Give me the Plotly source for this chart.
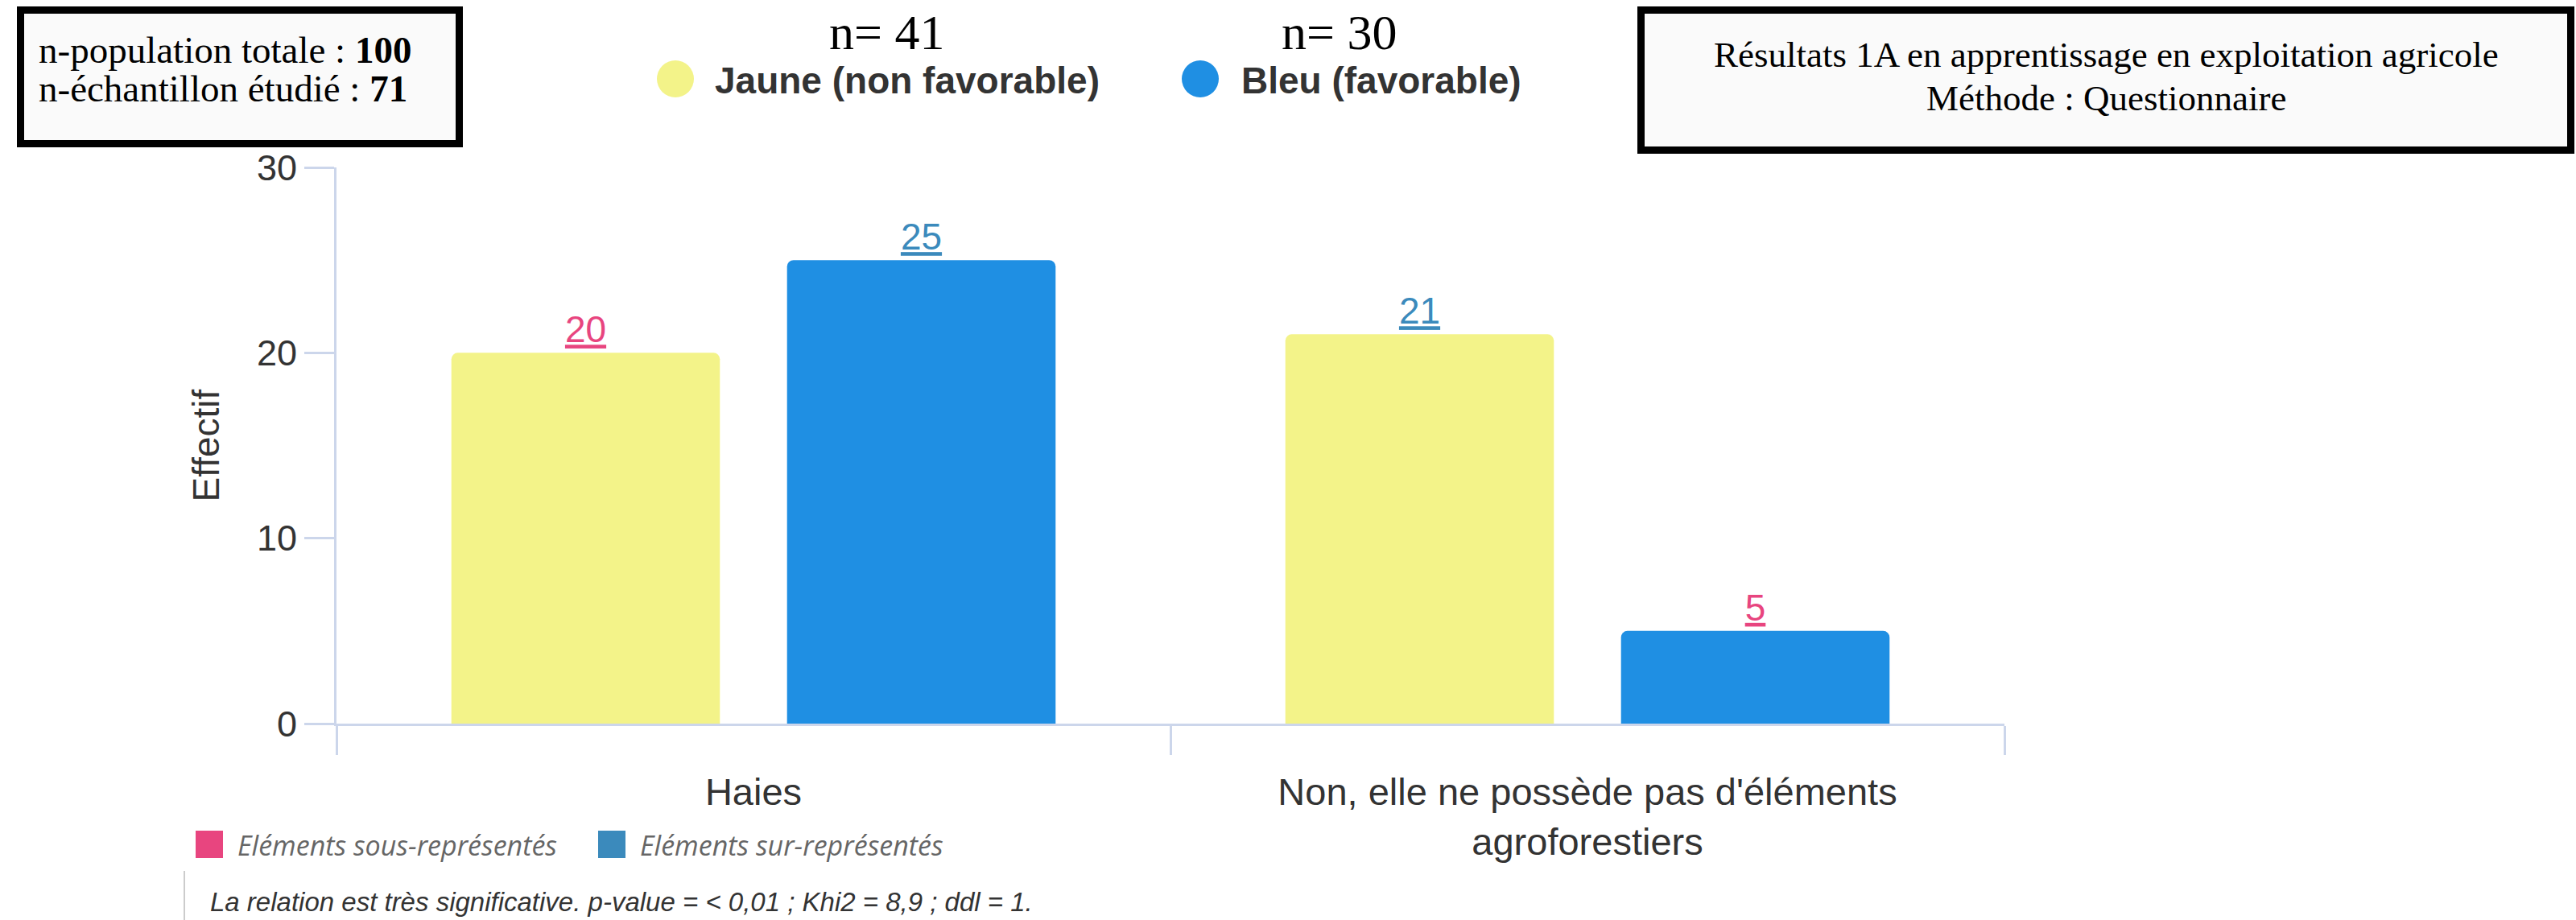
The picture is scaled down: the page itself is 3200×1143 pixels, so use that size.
import plotly.graph_objects as go

# données
categories = ["Haies", "Non, elle ne possède pas d'éléments<br>agroforestiers"]
jaune = [20, 21]
bleu = [25, 5]
jaune_statut = ["sous", "sur"]   # couleur de l'étiquette : sous/sur-représenté
bleu_statut = ["sur", "sous"]
y_ticks = [0, 10, 20, 30]
n_jaune = 41
n_bleu = 30
population_totale = 100
echantillon = 71

JAUNE = "#f3f389"
BLEU = "#1f8fe3"
ROSE = "#e8457f"
ACIER = "#3b8abc"
AXE = "#ccd6eb"
statut_couleur = {"sous": ROSE, "sur": ACIER}

W, H = 3200, 1143
L, R, T, B = 418, 710, 208, 244
PW, PH = W - L - R, H - T - B


def px(x):
    return (x - L) / PW


def py(y):
    return (H - B - y) / PH


fig = go.Figure()
fig.add_trace(go.Bar(
    x=categories, y=jaune, name="Jaune (non favorable)",
    marker=dict(color=JAUNE, line=dict(width=0)),
    text=[f"<u>{v}</u>" for v in jaune], textposition="outside",
    textfont=dict(size=46, color=[statut_couleur[s] for s in jaune_statut]),
    cliponaxis=False, showlegend=False,
))
fig.add_trace(go.Bar(
    x=categories, y=bleu, name="Bleu (favorable)",
    marker=dict(color=BLEU, line=dict(width=0)),
    text=[f"<u>{v}</u>" for v in bleu], textposition="outside",
    textfont=dict(size=46, color=[statut_couleur[s] for s in bleu_statut]),
    cliponaxis=False, showlegend=False,
))

shapes = []
annotations = []

# cadres du haut
for x0, x1, y0, y1 in [(21, 575, 8, 183), (2034, 3198, 8, 191)]:
    shapes.append(dict(type="rect", xref="paper", yref="paper",
                       x0=px(x0 + 4.5), x1=px(x1 - 4.5), y0=py(y0 + 4.5), y1=py(y1 - 4.5),
                       line=dict(color="black", width=9), fillcolor="#fafafa", layer="below"))

serif = "Liberation Serif, Times New Roman, serif"
annotations += [
    dict(x=px(46), y=py(62), xanchor="left", yanchor="middle",
         text=f"n-population totale : <b>{population_totale}</b>",
         font=dict(family=serif, size=47, color="black")),
    dict(x=px(46), y=py(110), xanchor="left", yanchor="middle",
         text=f"n-échantillon étudié : <b>{echantillon}</b>",
         font=dict(family=serif, size=47, color="black")),
    dict(x=px(2616), y=py(68), xanchor="center", yanchor="middle",
         text="Résultats 1A en apprentissage en exploitation agricole",
         font=dict(family=serif, size=45, color="black")),
    dict(x=px(2616), y=py(122), xanchor="center", yanchor="middle",
         text="Méthode : Questionnaire",
         font=dict(family=serif, size=45, color="black")),
    dict(x=px(1101), y=py(40), xanchor="center", yanchor="middle",
         text=f"n= {n_jaune}", font=dict(family=serif, size=62, color="black")),
    dict(x=px(1663), y=py(40), xanchor="center", yanchor="middle",
         text=f"n= {n_bleu}", font=dict(family=serif, size=62, color="black")),
]

# légende du haut (pastilles rondes)
for cx, couleur, tx, label in [(839, JAUNE, 886, "Jaune (non favorable)"),
                               (1491, BLEU, 1540, "Bleu (favorable)")]:
    shapes.append(dict(type="circle", xref="paper", yref="paper",
                       xsizemode="pixel", ysizemode="pixel",
                       xanchor=px(cx), yanchor=py(98),
                       x0=-23, x1=23, y0=-23, y1=23,
                       fillcolor=couleur, line=dict(width=0)))
    annotations.append(dict(x=px(tx), y=py(100), xanchor="left", yanchor="middle",
                            text=f"<b>{label}</b>",
                            font=dict(family="Liberation Sans, Arial", size=46, color="#333333")))

# légende du bas
for x0, couleur, label in [(243, ROSE, "Eléments sous-représentés"),
                           (743, ACIER, "Eléments sur-représentés")]:
    shapes.append(dict(type="rect", xref="paper", yref="paper",
                       x0=px(x0), x1=px(x0 + 34), y0=py(1032), y1=py(1066),
                       fillcolor=couleur, line=dict(width=0)))
    annotations.append(dict(x=px(x0 + 50), y=py(1050), xanchor="left", yanchor="middle",
                            text=f"<i>{label}</i>",
                            font=dict(family="Open Sans", size=34, color="#666666")))

shapes.append(dict(type="line", xref="paper", yref="paper",
                   x0=px(229), x1=px(229), y0=py(1082), y1=py(1143),
                   line=dict(color="#cccccc", width=2)))
annotations.append(dict(x=px(259), y=py(1120), xanchor="left", yanchor="middle",
                        text="<i>La relation est très significative. p-value = &lt; 0,01 ; Khi2 = 8,9 ; ddl = 1.</i>",
                        font=dict(family="Liberation Sans, Arial", size=33, color="#333333")))

for a in annotations:
    a.update(xref="paper", yref="paper", showarrow=False)

fig.update_layout(
    width=W, height=H,
    margin=dict(l=L, r=R, t=T, b=B, pad=0),
    paper_bgcolor="white", plot_bgcolor="white",
    font=dict(family="Liberation Sans, Arial", color="#333333"),
    barmode="group", bargap=0.195, bargroupgap=0.2,
    barcornerradius=8,
    shapes=shapes, annotations=annotations,
    showlegend=False,
)
fig.update_yaxes(
    range=[0, 30], tickvals=y_ticks, showgrid=False, zeroline=False,
    showline=True, linecolor=AXE, linewidth=3,
    ticks="outside", ticklen=37, tickwidth=3, tickcolor=AXE,
    tickfont=dict(size=45, color="#333333"),
    title=dict(text="Effectif", font=dict(size=46, color="#333333"), standoff=32),
)
fig.update_xaxes(
    type="category", showgrid=False, showline=True, linecolor=AXE, linewidth=3,
    ticks="outside", tickson="boundaries", ticklen=36, tickwidth=3, tickcolor=AXE,
    ticklabelstandoff=42,
    tickfont=dict(size=47, color="#333333"),
)

fig.write_html("out.html", config={"displayModeBar": False},
               post_script="document.body.style.margin='0';")
